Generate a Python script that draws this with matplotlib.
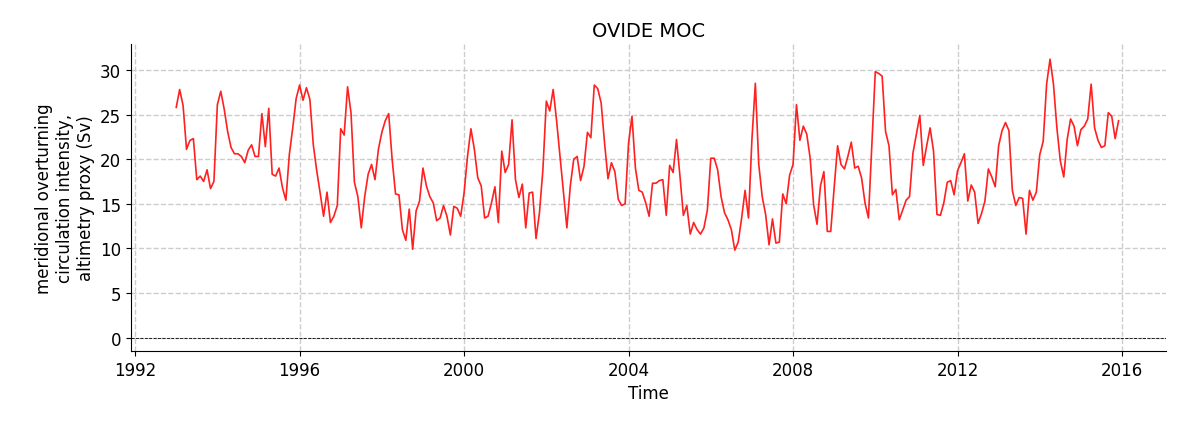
import numpy as np
import matplotlib
matplotlib.use('Agg')
import matplotlib.pyplot as plt

# monthly MOC values (Sv), Jan 1993 .. Dec 2015
moc_1993_1998 = [25.8, 27.8, 26.0, 21.1, 22.1, 22.3, 17.7, 18.1, 17.5, 18.8, 16.7, 17.5,
                 26.1, 27.6, 25.6, 23.1, 21.3, 20.6, 20.6, 20.3, 19.6, 21.0, 21.6, 20.3,
                 20.3, 25.1, 21.4, 25.7, 18.3, 18.1, 19.0, 16.8, 15.4, 20.5, 23.5, 26.8,
                 28.3, 26.6, 28.0, 26.7, 21.6, 18.7, 16.2, 13.6, 16.3, 12.9, 13.6, 14.8,
                 23.4, 22.7, 28.1, 25.2, 17.4, 15.8, 12.3, 15.8, 18.3, 19.4, 17.7, 21.1,
                 23.0, 24.3, 25.1, 20.0, 16.1, 16.0, 12.1, 10.9, 14.4, 9.9, 14.2]
moc_1998_2004 = [15.3, 19.0, 17.0, 15.8, 15.1, 13.1, 13.4, 14.8, 13.6, 11.5, 14.7, 14.5,
                 13.6, 16.2, 20.3, 23.4, 21.1, 17.9, 17.0, 13.4, 13.6, 15.1, 16.9, 12.9,
                 20.9, 18.5, 19.4, 24.4, 17.7, 15.7, 17.2, 12.3, 16.2, 16.3, 11.1, 14.0,
                 18.8, 26.5, 25.4, 27.8, 24.3, 20.3, 16.2, 12.3, 17.0, 20.0, 20.3, 17.6,
                 19.2, 23.0, 22.4, 28.3, 27.9, 26.3, 21.8, 17.8, 19.6, 18.6, 15.5, 14.8,
                 15.0, 21.8, 24.8, 19.0, 16.5, 16.3, 15.1, 13.6, 17.3, 17.3, 17.6]
moc_2004_2010 = [17.7, 13.7, 19.3, 18.5, 22.2, 18.1, 13.7, 14.8, 11.6, 12.9, 12.1, 11.6,
                 12.3, 14.3, 20.1, 20.1, 18.8, 15.8, 14.0, 13.2, 12.1, 9.8, 10.7, 13.4,
                 16.5, 13.4, 22.2, 28.5, 19.4, 15.8, 13.8, 10.4, 13.3, 10.6, 10.7, 16.1,
                 15.0, 18.2, 19.4, 26.1, 22.1, 23.7, 22.8, 20.1, 14.9, 12.7, 17.0, 18.6,
                 11.9, 11.9, 16.8, 21.5, 19.4, 18.9, 20.3, 21.9, 19.0, 19.2, 17.9, 15.1,
                 13.4, 21.5, 29.8, 29.6, 29.3, 23.1, 21.5, 16.0, 16.6, 13.2]
moc_2010_2015 = [14.3, 15.4, 15.8, 20.7, 22.8, 24.9, 19.3, 21.5, 23.5, 20.9, 13.8, 13.7,
                 15.1, 17.4, 17.6, 16.0, 18.7, 19.6, 20.6, 15.3, 17.1, 16.3, 12.8, 13.9,
                 15.3, 18.9, 18.0, 16.9, 21.5, 23.2, 24.1, 23.2, 16.5, 14.8, 15.7, 15.6,
                 11.6, 16.5, 15.4, 16.3, 20.5, 22.0, 28.4, 31.2, 28.4, 23.5, 19.8, 18.0,
                 22.2, 24.5, 23.7, 21.5, 23.3, 23.7, 24.5, 28.4, 23.5, 22.1, 21.3, 21.5,
                 25.2, 24.8, 22.3, 24.3]

moc = np.array(moc_1993_1998 + moc_1998_2004 + moc_2004_2010 + moc_2010_2015)
time = 1993 + np.arange(len(moc)) / 12.0
xticks = [1992, 1996, 2000, 2004, 2008, 2012, 2016]
yticks = [0, 5, 10, 15, 20, 25, 30]

fig = plt.figure(figsize=(11.81, 4.31), dpi=100)
ax = fig.add_axes([131 / 1181, 1 - 352 / 431, (1166 - 131) / 1181, (352 - 45) / 431])

ax.plot(time, moc, color='#ff2020', lw=1.2)
ax.axhline(0, color='black', ls='--', lw=0.6)

ax.set_xticks(xticks)
ax.set_yticks(yticks)
ax.set_xlim(1991.9, 2017.07)
ax.set_ylim(-1.5, 32.9)
ax.grid(True, ls='--', color='#cccccc', lw=1)
ax.set_axisbelow(True)
ax.tick_params(labelsize=12)
ax.spines['top'].set_visible(False)
ax.spines['right'].set_visible(False)

ax.set_title('OVIDE MOC', fontsize=14)
ax.set_xlabel('Time', fontsize=12)
ax.set_ylabel('meridional overturning\ncirculation intensity,\naltimetry proxy (Sv)', fontsize=12)

plt.savefig('out.png', dpi=100)
